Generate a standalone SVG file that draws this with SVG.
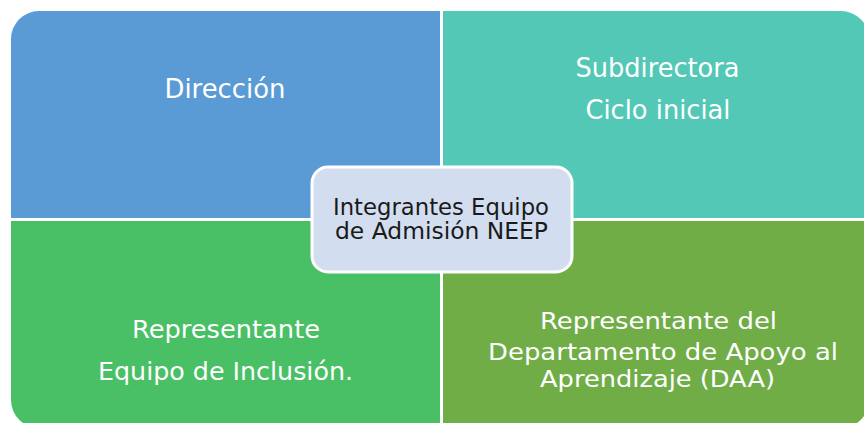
<svg xmlns="http://www.w3.org/2000/svg" width="864" height="423" viewBox="0 0 864 423">
  <defs>
    <clipPath id="frame">
      <rect x="11" y="11" width="858" height="417" rx="28" ry="28"/>
    </clipPath>
    <style>
      .q { font-family: "DejaVu Sans", "Liberation Sans", sans-serif; fill: #ffffff; text-anchor: middle; }
      .c { font-family: "DejaVu Sans", "Liberation Sans", sans-serif; fill: #1a1a1a; text-anchor: middle; font-size: 23px; }
    </style>
  </defs>
  <rect width="864" height="423" fill="#ffffff"/>
  <g clip-path="url(#frame)">
    <g id="direccion">
      <rect x="11" y="11" width="429" height="207" fill="#5B9BD5"/>
      <text class="q" x="225" y="98" font-size="26" textLength="121" lengthAdjust="spacingAndGlyphs">Dirección</text>
    </g>
    <g id="subdirectora">
      <rect x="443" y="11" width="426" height="207" fill="#53C8B6"/>
      <text class="q" x="657.5" y="77" font-size="26" textLength="164" lengthAdjust="spacingAndGlyphs">Subdirectora</text>
      <text class="q" x="658" y="119" font-size="26" textLength="145" lengthAdjust="spacingAndGlyphs">Ciclo inicial</text>
    </g>
    <g id="inclusion">
      <rect x="11" y="221" width="429" height="207" fill="#4AC066"/>
      <text class="q" x="226" y="338" font-size="24" textLength="188" lengthAdjust="spacingAndGlyphs">Representante</text>
      <text class="q" x="225.5" y="380" font-size="24" textLength="255" lengthAdjust="spacingAndGlyphs">Equipo de Inclusión.</text>
    </g>
    <g id="daa">
      <rect x="443" y="221" width="426" height="207" fill="#70AD47"/>
      <text class="q" x="658.5" y="329" font-size="23" textLength="237" lengthAdjust="spacingAndGlyphs">Representante del</text>
      <text class="q" x="663" y="360" font-size="23" textLength="350" lengthAdjust="spacingAndGlyphs">Departamento de Apoyo al</text>
      <text class="q" x="657.5" y="387" font-size="23" textLength="235" lengthAdjust="spacingAndGlyphs">Aprendizaje (DAA)</text>
    </g>
  </g>
  <g id="connectors"></g>
  <g id="centro">
    <rect x="312" y="167" width="260" height="105" rx="16" ry="16" fill="#D2DEEF" stroke="#ffffff" stroke-width="3"/>
    <text class="c" x="441" y="215" textLength="216" lengthAdjust="spacingAndGlyphs">Integrantes Equipo</text>
    <text class="c" x="441.5" y="239" textLength="213" lengthAdjust="spacingAndGlyphs">de Admisión NEEP</text>
  </g>
</svg>
